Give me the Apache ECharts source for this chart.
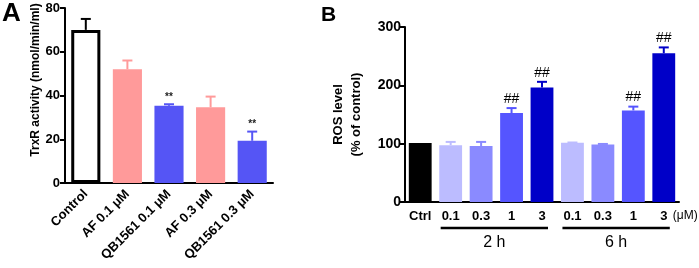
<!DOCTYPE html>
<html>
<head>
<meta charset="utf-8">
<script src="https://cdn.jsdelivr.net/npm/echarts@6/dist/echarts.min.js"></script>
<style>
  html, body { margin: 0; padding: 0; background: #fff; }
  #chart { width: 699px; height: 268px; }
</style>
</head>
<body>
<div id="chart"></div>
<script>
// panel A: TrxR activity
const catsA = ['Control', 'AF 0.1 μM', 'QB1561 0.1 μM', 'AF 0.3 μM', 'QB1561 0.3 μM']
const meanA = [70, 52, 35.3, 34.6, 19.3]
const errTopA = [75, 56, 36, 39.5, 23.5]
const sigA = ['', '', '**', '', '**']
const colorsA = ['#ffffff', '#ff9a9a', '#5555f5', '#ff9a9a', '#5555f5']
const errColorsA = ['#000000', '#ff9a9a', '#5555f5', '#ff9a9a', '#5555f5']
const ticksA = { min: 0, max: 80, interval: 20 }

// panel B: ROS level
const catsB = ['Ctrl', '0.1', '0.3', '1', '3', '0.1', '0.3', '1', '3']
const meanB = [101, 97.5, 96, 152.5, 196.5, 101.5, 98.5, 157, 255]
const errTopB = [101, 103, 103, 161, 206, 102, 99.5, 163.5, 265]
const sigB = ['', '', '', '##', '##', '', '', '##', '##']
const colorsB = ['#000000', '#bcbcff', '#8a8aff', '#5555ff', '#0000c8', '#bcbcff', '#8a8aff', '#5555ff', '#0000c8']
const groupsB = [{ name: '2 h', from: 1, to: 4 }, { name: '6 h', from: 5, to: 8 }]
const ticksB = { min: 0, max: 300, interval: 100 }

const FONT = 'Arial, "Liberation Sans", sans-serif'

const chart = echarts.init(document.getElementById('chart'))

function errorBars(colors, sigFont) {
  return function(params, api) {
    const i = api.value(0)
    const base = api.coord([i, api.value(1)])
    const top = api.coord([i, api.value(2)])
    const color = colors[i]
    const children = []
    if (api.value(2) > api.value(1)) {
      children.push({
        type: 'line',
        shape: { x1: base[0], y1: base[1], x2: top[0], y2: top[1] },
        style: { stroke: color, lineWidth: 2 }
      })
      children.push({
        type: 'line',
        shape: { x1: top[0] - 5, y1: top[1], x2: top[0] + 5, y2: top[1] },
        style: { stroke: color, lineWidth: 2 }
      })
    }
    const sig = sigFont.labels[i]
    if (sig) {
      children.push({
        type: 'text',
        style: {
          text: sig,
          x: top[0],
          y: top[1] - 2,
          align: 'center',
          verticalAlign: 'bottom',
          fill: sigFont.color,
          font: sigFont.font
        }
      })
    }
    return { type: 'group', children: children }
  }
}

const axisLineStyle = { color: '#000', width: 2 }

chart.setOption({
  animation: false,
  grid: [
    { left: 65, top: 8, width: 208, height: 175 },
    { left: 405, top: 27, width: 274, height: 175 }
  ],
  xAxis: [
    {
      type: 'category',
      gridIndex: 0,
      data: catsA,
      axisLine: { lineStyle: axisLineStyle },
      axisTick: { alignWithLabel: true, length: 5, lineStyle: { width: 2, color: '#000' } },
      axisLabel: { rotate: 45, margin: 9, color: '#000', fontWeight: 'bold', fontSize: 13, fontFamily: FONT, interval: 0 }
    },
    {
      type: 'category',
      gridIndex: 1,
      data: catsB,
      axisLine: { lineStyle: axisLineStyle },
      axisTick: { alignWithLabel: true, length: 5, lineStyle: { width: 2, color: '#000' } },
      axisLabel: { margin: 8, color: '#000', fontWeight: 'bold', fontSize: 13, fontFamily: FONT, interval: 0 }
    }
  ],
  yAxis: [
    {
      type: 'value',
      gridIndex: 0,
      min: ticksA.min,
      max: ticksA.max,
      interval: ticksA.interval,
      axisLine: { show: true, lineStyle: axisLineStyle },
      axisTick: { show: true, length: 5, lineStyle: { width: 2, color: '#000' } },
      axisLabel: { margin: 5, color: '#000', fontWeight: 'bold', fontSize: 13, fontFamily: FONT },
      splitLine: { show: false }
    },
    {
      type: 'value',
      gridIndex: 1,
      min: ticksB.min,
      max: ticksB.max,
      interval: ticksB.interval,
      name: 'ROS level\n(% of control)',
      nameLocation: 'middle',
      nameGap: 40,
      nameTextStyle: { color: '#000', fontWeight: 'bold', fontSize: 13, lineHeight: 18, fontFamily: FONT },
      axisLine: { show: true, lineStyle: axisLineStyle },
      axisTick: { show: true, length: 5, lineStyle: { width: 2, color: '#000' } },
      axisLabel: { margin: 4, color: '#000', fontWeight: 'bold', fontSize: 14, fontFamily: FONT },
      splitLine: { show: false }
    }
  ],
  series: [
    {
      type: 'bar',
      xAxisIndex: 0,
      yAxisIndex: 0,
      barWidth: '70%',
      data: meanA.map((v, i) => ({
        value: v,
        itemStyle: i === 0
          ? { color: colorsA[i], borderColor: '#000', borderWidth: 3 }
          : { color: colorsA[i] }
      }))
    },
    {
      type: 'custom',
      xAxisIndex: 0,
      yAxisIndex: 0,
      renderItem: errorBars(errColorsA, { labels: sigA, color: '#222', font: 'bold 10px ' + FONT }),
      data: meanA.map((v, i) => [i, v, errTopA[i]]),
      z: 3
    },
    {
      type: 'bar',
      xAxisIndex: 1,
      yAxisIndex: 1,
      barWidth: '75%',
      data: meanB.map((v, i) => ({ value: v, itemStyle: { color: colorsB[i] } }))
    },
    {
      type: 'custom',
      xAxisIndex: 1,
      yAxisIndex: 1,
      renderItem: errorBars(colorsB, { labels: sigB, color: '#000', font: '14px ' + FONT }),
      data: meanB.map((v, i) => [i, v, errTopB[i]]),
      z: 3
    }
  ]
})

// annotations: panel letters, axis title A, unit and time brackets under B
const graphics = [
  { type: 'text', left: 2, top: 1, style: { text: 'A', font: 'bold 26px ' + FONT, fill: '#000' } },
  { type: 'text', left: 321, top: 5, style: { text: 'B', font: 'bold 21px ' + FONT, fill: '#000' } },
  {
    type: 'text',
    x: 36,
    y: 80,
    rotation: Math.PI / 2,
    style: {
      text: 'TrxR activity (nmol/min/ml)',
      font: 'bold 12px ' + FONT,
      fill: '#000',
      align: 'center',
      verticalAlign: 'middle'
    }
  }
]
const lastB = chart.convertToPixel({ gridIndex: 1 }, [catsB.length - 1, 0])
graphics.push({
  type: 'text',
  x: lastB[0] + 9,
  y: lastB[1] + 14,
  style: { text: '(μM)', font: '12px ' + FONT, fill: '#000', verticalAlign: 'middle' }
})
groupsB.forEach(g => {
  const a = chart.convertToPixel({ gridIndex: 1 }, [g.from, 0])
  const b = chart.convertToPixel({ gridIndex: 1 }, [g.to, 0])
  graphics.push({
    type: 'line',
    shape: { x1: a[0] - 10, y1: a[1] + 26, x2: b[0] + 6, y2: b[1] + 26 },
    style: { stroke: '#000', lineWidth: 2.5 }
  })
  graphics.push({
    type: 'text',
    x: (a[0] + b[0]) / 2 - 2,
    y: a[1] + 41,
    style: { text: g.name, font: '16px ' + FONT, fill: '#000', align: 'center', verticalAlign: 'middle' }
  })
})
chart.setOption({ graphic: graphics })
</script>
</body>
</html>
